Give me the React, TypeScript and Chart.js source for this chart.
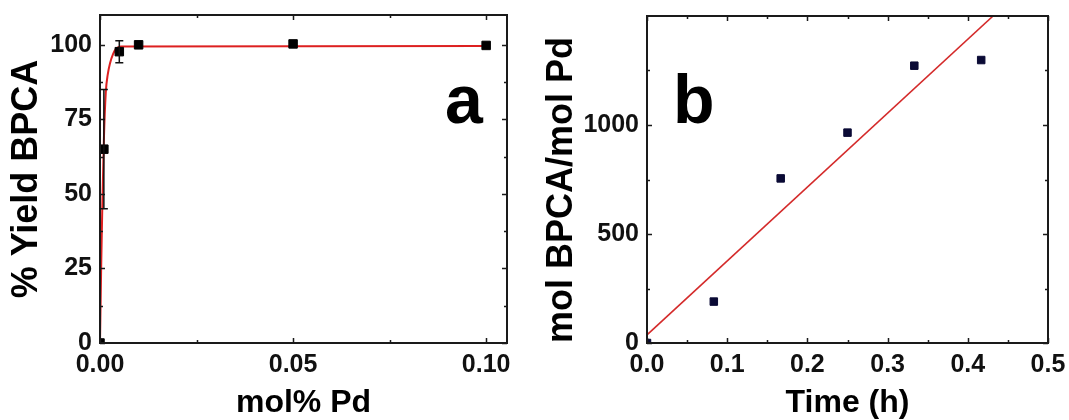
import React, { useEffect, useRef } from 'react';
import { Chart, registerables } from 'chart.js';

Chart.register(...registerables);

// ---------- Panel a data ----------
const molPd = [0, 0.001, 0.005, 0.01, 0.05, 0.1];
const yieldBPCA = [0, 65, 97.7, 100, 100.3, 99.8];
const yieldErr = [0, 20, 3.7, 0, 0, 0];
const fitMolPd = [0, 0.0003, 0.0006, 0.001, 0.0015, 0.002, 0.0034, 0.0054, 0.1];
const fitYield = [0, 25, 46, 68, 84, 90, 97, 99.4, 99.6];
const xTicksA = [0, 0.05, 0.1];
const xTickLabelsA = ['0.00', '0.05', '0.10'];
const xMinorA = [0.025, 0.075];
const yTicksA = [0, 25, 50, 75, 100];
const yTickLabelsA = ['0', '25', '50', '75', '100'];
const yMinorA = [12.5, 37.5, 62.5, 87.5];

// ---------- Panel b data ----------
const timeH = [0, 0.0833, 0.1667, 0.25, 0.3333, 0.4167];
const tonBPCA = [0, 190, 755, 965, 1272, 1298];
const fitTime = [0, 0.4315];
const fitTon = [37, 1500];
const xTicksB = [0, 0.1, 0.2, 0.3, 0.4, 0.5];
const xTickLabelsB = ['0.0', '0.1', '0.2', '0.3', '0.4', '0.5'];
const xMinorB = [0.05, 0.15, 0.25, 0.35, 0.45];
const yTicksB = [0, 500, 1000];
const yTickLabelsB = ['0', '500', '1000'];
const yMinorB = [250, 750, 1250];

const FONT = '"Liberation Sans", Arial, Helvetica, sans-serif';
const INK = '#111111';

const framePlugin = {
  id: 'frame',
  afterDatasetsDraw(chart: any, _args: any, opts: any) {
    const { ctx, chartArea: a, scales } = chart;
    const xs = scales.x;
    const ys = scales.y;
    ctx.save();
    ctx.strokeStyle = '#1a1a1a';
    ctx.lineWidth = 1.5;
    const major = 5;
    const minor = 3;
    const drawX = (vals: number[], len: number) => {
      vals.forEach((v) => {
        const px = Math.round(xs.getPixelForValue(v)) + 0.5;
        ctx.beginPath();
        ctx.moveTo(px, a.bottom);
        ctx.lineTo(px, a.bottom - len);
        ctx.moveTo(px, a.top);
        ctx.lineTo(px, a.top + len);
        ctx.stroke();
      });
    };
    const drawY = (vals: number[], len: number) => {
      vals.forEach((v) => {
        const py = Math.round(ys.getPixelForValue(v)) + 0.5;
        ctx.beginPath();
        ctx.moveTo(a.left, py);
        ctx.lineTo(a.left + len, py);
        ctx.moveTo(a.right, py);
        ctx.lineTo(a.right - len, py);
        ctx.stroke();
      });
    };
    drawX(opts.xMajor, major);
    drawX(opts.xMinor, minor);
    drawY(opts.yMajor, major);
    drawY(opts.yMinor, minor);
    ctx.lineWidth = 2;
    ctx.strokeRect(a.left, a.top, a.right - a.left, a.bottom - a.top);
    ctx.restore();
  },
};

const errorBarPlugin = {
  id: 'errorBars',
  afterDatasetsDraw(chart: any, _args: any, opts: any) {
    if (!opts || !opts.err) return;
    const { ctx, scales } = chart;
    const xs = scales.x;
    const ys = scales.y;
    const ds = chart.data.datasets[opts.datasetIndex];
    ctx.save();
    ctx.strokeStyle = '#111';
    ctx.lineWidth = 1.5;
    ds.data.forEach((p: any, i: number) => {
      const e = opts.err[i];
      if (!e) return;
      const px = xs.getPixelForValue(p.x);
      const top = ys.getPixelForValue(p.y + e);
      const bot = ys.getPixelForValue(p.y - e);
      ctx.beginPath();
      ctx.moveTo(px, top);
      ctx.lineTo(px, bot);
      ctx.moveTo(px - 4, top);
      ctx.lineTo(px + 4, top);
      ctx.moveTo(px - 4, bot);
      ctx.lineTo(px + 4, bot);
      ctx.stroke();
    });
    ctx.restore();
  },
};

const panelLabelPlugin = {
  id: 'panelLabel',
  afterDraw(chart: any, _args: any, opts: any) {
    if (!opts || !opts.text) return;
    const { ctx, chartArea: a } = chart;
    ctx.save();
    ctx.font = `bold 68px ${FONT}`;
    ctx.fillStyle = '#000';
    ctx.textBaseline = 'alphabetic';
    ctx.textAlign = 'left';
    const x = opts.fromRight ? a.right - opts.dx : a.left + opts.dx;
    ctx.fillText(opts.text, x, a.top + opts.dy);
    ctx.restore();
  },
};

function axis(opts: {
  min: number;
  max: number;
  ticks: number[];
  labels: string[];
  title: string;
  titleSize: number;
  titlePadding: any;
  titleLineHeight: number;
  titleAlign?: string;
  tickSize: number;
  tickPadding: number;
  fit: (s: any) => void;
}) {
  return {
    type: 'linear',
    min: opts.min,
    max: opts.max,
    afterBuildTicks: (s: any) => {
      s.ticks = opts.ticks.map((v) => ({ value: v }));
    },
    afterFit: (s: any) => {
      opts.fit(s);
      s.paddingTop = 0;
      s.paddingBottom = 0;
      s.paddingLeft = 0;
      s.paddingRight = 0;
    },
    ticks: {
      autoSkip: false,
      maxRotation: 0,
      minRotation: 0,
      padding: opts.tickPadding,
      color: INK,
      font: { family: FONT, size: opts.tickSize, weight: 'bold' },
      callback: (_v: any, i: number) => opts.labels[i],
    },
    grid: { display: false, drawTicks: false, tickLength: 0 },
    border: { display: false },
    title: {
      display: true,
      text: opts.title,
      color: '#000',
      align: opts.titleAlign || 'center',
      padding: opts.titlePadding,
      font: { family: FONT, size: opts.titleSize, weight: 'bold', lineHeight: opts.titleLineHeight },
    },
  };
}

function ChartA() {
  const ref = useRef<HTMLCanvasElement>(null);
  useEffect(() => {
    const chart = new Chart(ref.current as HTMLCanvasElement, {
      type: 'scatter',
      data: {
        datasets: [
          {
            data: fitMolPd.map((x, i) => ({ x, y: fitYield[i] })),
            showLine: true,
            borderColor: '#dd2020',
            borderWidth: 2,
            pointRadius: 0,
            cubicInterpolationMode: 'monotone',
            clip: 0,
            order: 2,
          } as any,
          {
            data: molPd.map((x, i) => ({ x, y: yieldBPCA[i] })),
            showLine: false,
            pointStyle: 'rect',
            pointRadius: 6,
            backgroundColor: '#000',
            borderColor: '#000',
            borderWidth: 1,
            clip: 0,
            order: 1,
          } as any,
        ],
      },
      options: {
        responsive: false,
        animation: false,
        events: [],
        layout: { padding: { top: 15, right: 28, left: 0, bottom: 0 } },
        scales: {
          x: axis({
            min: 0,
            max: 0.1054,
            ticks: xTicksA,
            labels: xTickLabelsA,
            title: 'mol% Pd',
            titleSize: 32,
            titleLineHeight: 1,
            titlePadding: { top: 0, bottom: 1 },
            tickSize: 25,
            tickPadding: 7,
            fit: (s: any) => {
              s.height = 77;
            },
          }) as any,
          y: axis({
            min: 0,
            max: 110,
            ticks: yTicksA,
            labels: yTickLabelsA,
            title: '% Yield BPCA',
            titleSize: 36,
            titleLineHeight: 1.2,
            titlePadding: { top: 5, bottom: 0 },
            tickSize: 25,
            tickPadding: 8,
            fit: (s: any) => {
              s.width = 100;
            },
          }) as any,
        },
        plugins: {
          legend: { display: false },
          tooltip: { enabled: false },
          frame: { xMajor: xTicksA, xMinor: xMinorA, yMajor: yTicksA, yMinor: yMinorA },
          errorBars: { err: yieldErr, datasetIndex: 1 },
          panelLabel: { text: 'a', fromRight: true, dx: 62, dy: 108 },
        } as any,
      },
      plugins: [framePlugin, errorBarPlugin, panelLabelPlugin],
    });
    return () => chart.destroy();
  }, []);
  return (
    <canvas
      ref={ref}
      width={535}
      height={420}
      style={{ position: 'absolute', left: 0, top: 0, width: 535, height: 420, display: 'block' }}
    />
  );
}

function ChartB() {
  const ref = useRef<HTMLCanvasElement>(null);
  useEffect(() => {
    const chart = new Chart(ref.current as HTMLCanvasElement, {
      type: 'scatter',
      data: {
        datasets: [
          {
            data: fitTime.map((x, i) => ({ x, y: fitTon[i] })),
            showLine: true,
            borderColor: '#d42a2a',
            borderWidth: 1.6,
            pointRadius: 0,
            clip: 0,
            order: 2,
          } as any,
          {
            data: timeH.map((x, i) => ({ x, y: tonBPCA[i] })),
            showLine: false,
            pointStyle: 'rect',
            pointRadius: 5.3,
            backgroundColor: '#0a0a35',
            borderColor: '#0a0a35',
            borderWidth: 1,
            clip: 0,
            order: 1,
          } as any,
        ],
      },
      options: {
        responsive: false,
        animation: false,
        events: [],
        layout: { padding: { top: 16, right: 21, left: 0, bottom: 0 } },
        scales: {
          x: axis({
            min: 0,
            max: 0.5,
            ticks: xTicksB,
            labels: xTickLabelsB,
            title: 'Time (h)',
            titleSize: 32,
            titleLineHeight: 1,
            titlePadding: { top: 0, bottom: 1 },
            tickSize: 25,
            tickPadding: 7,
            fit: (s: any) => {
              s.height = 77;
            },
          }) as any,
          y: axis({
            min: 0,
            max: 1500,
            ticks: yTicksB,
            labels: yTickLabelsB,
            title: 'mol BPCA/mol Pd',
            titleSize: 36,
            titleLineHeight: 1.2,
            titleAlign: 'start',
            titlePadding: { top: 5, bottom: 0 },
            tickSize: 25,
            tickPadding: 8,
            fit: (s: any) => {
              s.width = 112;
            },
          }) as any,
        },
        plugins: {
          legend: { display: false },
          tooltip: { enabled: false },
          frame: { xMajor: xTicksB, xMinor: xMinorB, yMajor: yTicksB, yMinor: yMinorB },
          panelLabel: { text: 'b', fromRight: false, dx: 26, dy: 107 },
        } as any,
      },
      plugins: [framePlugin, panelLabelPlugin],
    });
    return () => chart.destroy();
  }, []);
  return (
    <canvas
      ref={ref}
      width={534}
      height={420}
      style={{ position: 'absolute', left: 535, top: 0, width: 534, height: 420, display: 'block' }}
    />
  );
}

export default function App() {
  return (
    <div
      style={{
        position: 'fixed',
        left: 0,
        top: 0,
        width: 1069,
        height: 420,
        background: '#ffffff',
        overflow: 'hidden',
      }}
    >
      <ChartA />
      <ChartB />
    </div>
  );
}
